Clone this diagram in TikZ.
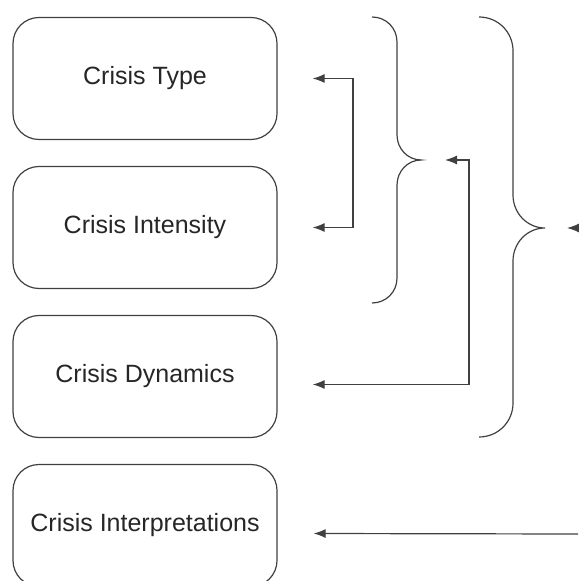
\documentclass[tikz,border=0pt]{standalone}
\usepackage{fontspec}
\setmainfont{Liberation Sans}
\usetikzlibrary{arrows.meta,positioning}
\tikzset{%
  >={Latex[width=4.5pt,length=6pt]},
  % Specifications for style of nodes:
     base/.style = {rectangle, rounded corners=13pt, draw=black!75,
                    line width=0.6pt, minimum width=132pt, minimum height=61pt,
                    text centered, text=black!85,
                    font=\fontsize{12.5}{15}\selectfont},
   crisis/.style = {base},
     link/.style = {draw=black!75, line width=0.6pt},
    curly/.style = {draw=black!75, line width=0.6pt},
}

\begin{document}
\begin{tikzpicture}[x=0.5pt, y=-0.5pt, node distance=74.5pt]
\useasboundingbox (0,0) rectangle (578,581);

\node (Type)      [crisis] at (145,78.5)         {Crisis Type};

\node (Intensity) [crisis, below of=Type]        {Crisis Intensity};

\node (Dynamics)  [crisis, below of=Intensity]   {Crisis Dynamics};

\node (Interp)    [crisis, below of=Dynamics]    {Crisis Interpretations};

% braces
\coordinate (tip1) at (421,160);
\coordinate (tip2) at (545,228);
\draw[curly] (372,17) .. controls (386,17) and (397,28) .. (397,42)
  -- (397,135) .. controls (397,149) and (408,160) .. (tip1)
  .. controls (408,160) and (397,171) .. (397,185)
  -- (397,278) .. controls (397,292) and (386,303) .. (372,303);
\draw[curly] (479,17) .. controls (498,17) and (513,32) .. (513,51)
  -- (513,195) .. controls (513,213) and (527,228) .. (tip2)
  .. controls (527,228) and (513,243) .. (513,261)
  -- (513,403) .. controls (513,422) and (498,437) .. (479,437);

% connectors
\coordinate (bar1) at (353,0);
\coordinate (bar2) at (469,0);
\coordinate (edge3) at (578,228);
\coordinate (edge4) at (578,534);

\draw[link, <->] ([xshift=17.5pt]Type.east) -- (Type.east -| bar1)
  -- (Intensity.east -| bar1) -- ([xshift=17.5pt]Intensity.east);
\draw[link, <->] ([xshift=12pt]tip1) -- (tip1 -| bar2)
  -- ([yshift=-4pt]Dynamics.east -| bar2)
  -- ([shift={(17.5pt,-4pt)}]Dynamics.east);
\draw[link, ->] (edge3) -- ([xshift=11pt]tip2);
\draw[link, ->] (edge4) -- ([shift={(18pt,-4pt)}]Interp.east);
\end{tikzpicture}
\end{document}
